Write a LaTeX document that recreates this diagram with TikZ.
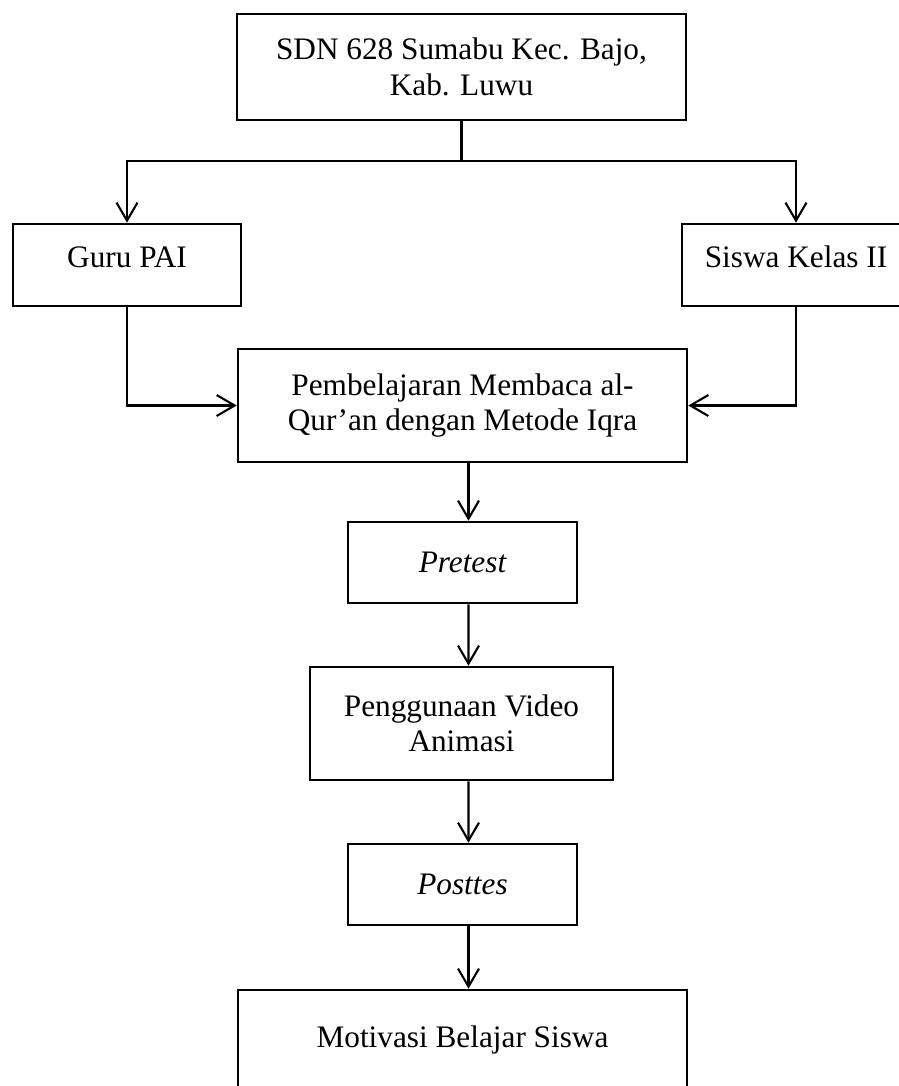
\documentclass[tikz,border=0pt]{standalone}
\usepackage{fontspec}
\setmainfont{Liberation Serif}
\usetikzlibrary{arrows.meta}

\begin{document}
\begin{tikzpicture}[x=0.02cm,y=-0.02cm,
  box/.style={draw,line width=1.5pt,align=center,inner sep=0pt,
    font=\fontsize{17.8}{20.2}\selectfont},
  sidebox/.style={box,minimum width=4.56cm,text height=0.86cm,text depth=0.78cm},
  >={Straight Barb[length=0.36cm,width=0.42cm]},
  every path/.style={line width=1.2pt}]
\useasboundingbox (0,0) rectangle (899,1086);

\node[box,minimum width=8.98cm,minimum height=2.12cm] (sdn) at (461.5,67) {SDN 628 Sumabu Kec. Bajo,\\Kab. Luwu};
\node[sidebox] (guru) at (127,265) {Guru PAI};
\node[sidebox] (siswa) at (796,265) {Siswa Kelas II};
\node[box,minimum width=8.98cm,minimum height=2.26cm] (belajar) at (462.5,405.5) {Pembelajaran Membaca al-\\Qur’an dengan Metode Iqra};
\node[box,minimum width=4.58cm,minimum height=1.62cm] (pre) at (462.5,562.5) {\itshape Pretest};
\node[box,minimum width=6.06cm,minimum height=2.26cm] (video) at (461.5,723.5) {Penggunaan Video\\Animasi};
\node[box,minimum width=4.58cm,minimum height=1.62cm] (post) at (462.5,884.5) {\itshape Posttes};
\node[box,minimum width=8.98cm,minimum height=2.0cm] (motiv) at (462.5,1040) {Motivasi Belajar Siswa};
\coordinate (split) at (461.5,161);

\draw (sdn) -- (split);
\draw[->] (split) -| (guru);
\draw[->] (split) -| (siswa);
\draw[->] (guru) |- (belajar);
\draw[->] (siswa) |- (belajar);
\draw[->] ([xshift=0.12cm]belajar.south) -- ([xshift=0.12cm]pre.north);
\draw[->] ([xshift=0.12cm]pre.south) -- ([xshift=0.14cm]video.north);
\draw[->] ([xshift=0.14cm]video.south) -- ([xshift=0.12cm]post.north);
\draw[->] ([xshift=0.12cm]post.south) -- ([xshift=0.12cm]motiv.north);
\end{tikzpicture}
\end{document}
